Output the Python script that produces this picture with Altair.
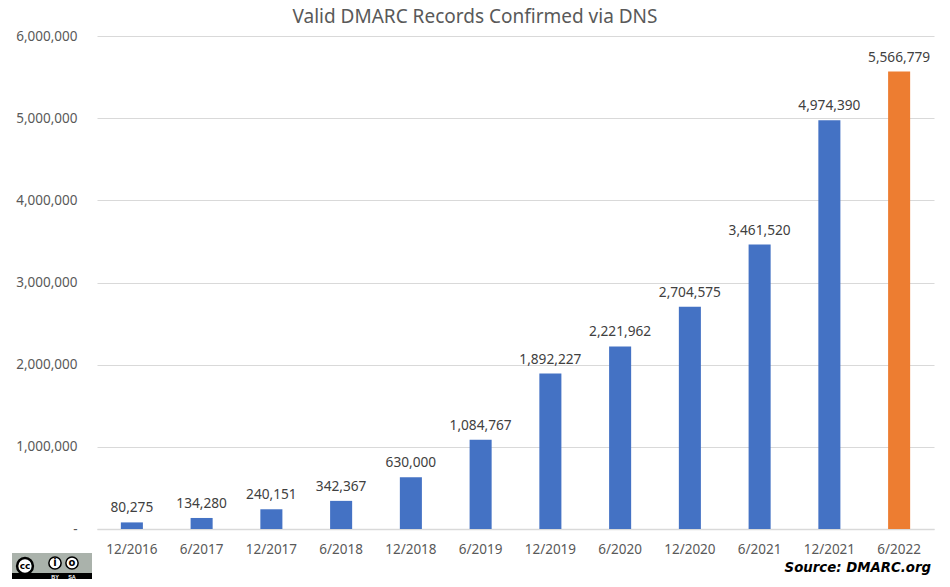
import altair as alt
import pandas as pd

periods = ["12/2016","6/2017","12/2017","6/2018","12/2018","6/2019","12/2019","6/2020","12/2020","6/2021","12/2021","6/2022"]
records = [80275,134280,240151,342367,630000,1084767,1892227,2221962,2704575,3461520,4974390,5566779]
highlight = ["a"]*11 + ["b"]
TITLE = "Valid DMARC Records Confirmed via DNS"
SOURCE = "Source: DMARC.org"
FONT = "Noto Sans"

df = pd.DataFrame({"period": periods, "records": records, "group": highlight})

x = alt.X("period:N", sort=periods, title=None,
          scale=alt.Scale(paddingInner=0.684, paddingOuter=0.342),
          axis=alt.Axis(labelAngle=0, labelFont=FONT, labelFontSize=13.5, labelColor="#595959",
                        ticks=False, domainColor="#d9d9d9", domainWidth=1.5, labelPadding=13, grid=False))
y = alt.Y("records:Q", title=None,
          scale=alt.Scale(domain=[0, 6000000], nice=False),
          axis=alt.Axis(values=[0,1000000,2000000,3000000,4000000,5000000,6000000],
                        labelExpr="datum.value === 0 ? '-\u00a0\u00a0' : format(datum.value, ',')",
                        labelFont=FONT, labelFontSize=13.5, labelColor="#595959", ticks=False,
                        domain=False, gridColor="#d9d9d9", gridWidth=1, labelPadding=20))

bars = alt.Chart(df).mark_bar(clip=False).encode(
    x=x, y=y,
    color=alt.Color("group:N", scale=alt.Scale(domain=["a","b"], range=["#4472c4","#ed7d31"]), legend=None))
labels = alt.Chart(df).mark_text(dy=-14, font=FONT, fontSize=13.7, color="#404040").encode(
    x=alt.X("period:N", sort=periods), y="records:Q", text=alt.Text("records:Q", format=","))

one = df.head(1)
def val(**k): return {n: alt.value(v) for n, v in k.items()}

title = alt.Chart(one).mark_text(font=FONT, fontSize=19, color="#595959", baseline="middle").encode(
    **val(x=378, y=-19, text=TITLE))
source = alt.Chart(one).mark_text(font="DejaVu Sans", fontSize=13.3, fontWeight="bold", fontStyle="italic",
                                 color="black", align="right", baseline="middle").encode(
    **val(x=834, y=532, text=SOURCE))

badge_bg = alt.Chart(one).mark_rect(color="#aab2ab").encode(**val(x=-85, x2=-5, y=517, y2=544))
badge_strip = alt.Chart(one).mark_rect(color="black").encode(**val(x=-85, x2=-5, y=537, y2=544))
circle_cc = alt.Chart(one).mark_point(filled=True, fill="white", stroke="black", strokeWidth=2.5, size=250, opacity=1).encode(**val(x=-72, y=530))
circle_by = alt.Chart(one).mark_point(filled=True, fill="white", stroke="black", strokeWidth=1.5, size=150, opacity=1).encode(**val(x=-42, y=527))
circle_sa = alt.Chart(one).mark_point(filled=True, fill="white", stroke="black", strokeWidth=1.5, size=150, opacity=1).encode(**val(x=-25, y=527))
t_cc = alt.Chart(one).mark_text(font="DejaVu Sans", fontSize=9, fontWeight="bold", color="black").encode(**val(x=-72, y=530, text="cc"))
t_by = alt.Chart(one).mark_text(font="DejaVu Sans", fontSize=10, fontWeight="bold", color="black").encode(**val(x=-42, y=527, text="i"))
t_sa = alt.Chart(one).mark_text(font="DejaVu Sans", fontSize=10, fontWeight="bold", color="black").encode(**val(x=-25, y=527, text="o"))
t_by2 = alt.Chart(one).mark_text(font="Liberation Sans", fontSize=5.5, fontWeight="bold", color="white").encode(**val(x=-42, y=540.5, text="BY"))
t_sa2 = alt.Chart(one).mark_text(font="Liberation Sans", fontSize=5.5, fontWeight="bold", color="white").encode(**val(x=-25, y=540.5, text="SA"))

chart = alt.layer(bars, labels, title, source, badge_bg, badge_strip, circle_cc, circle_by, circle_sa,
                  t_cc, t_by, t_sa, t_by2, t_sa2).properties(
    width=837, height=493,
    padding={"left": 89, "top": 28, "right": 8, "bottom": 50},
    autosize=alt.AutoSizeParams(type="none"),
    background="white",
).configure_view(stroke=None)

chart.save("out.html", embed_options={"renderer": "svg", "actions": False})
